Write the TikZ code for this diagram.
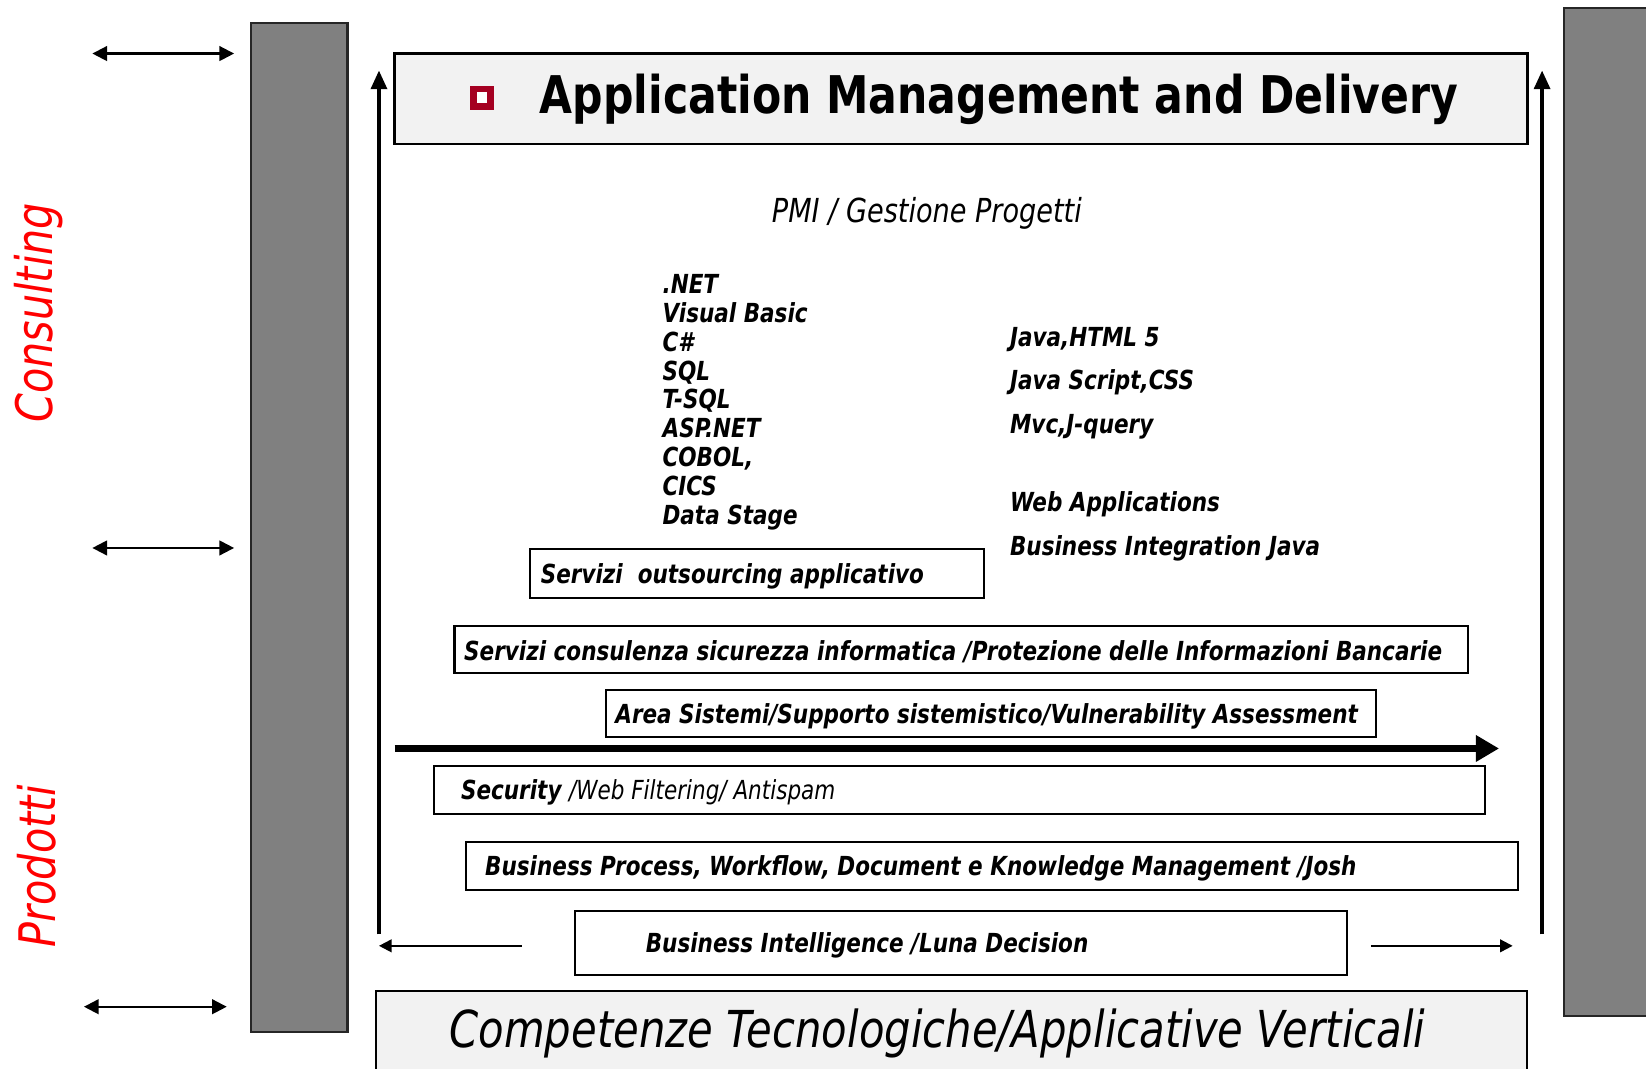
\documentclass[tikz,border=0pt]{standalone}
\usepackage{fontspec}
\setmainfont{DejaVu Sans}[FakeStretch=0.82]
\usetikzlibrary{arrows.meta}
\definecolor{barGray}{RGB}{128,128,128}
\definecolor{paneGray}{RGB}{242,242,242}
\definecolor{markRed}{RGB}{165,0,33}
\tikzset{
  bar/.style={draw=black!85,line width=2pt,fill=barGray},
  pane/.style={draw=black,line width=2.5pt,fill=paneGray,inner sep=0pt},
  box/.style={draw=black,line width=2pt,fill=white,inner sep=0pt},
  txt/.style={font=\fontsize{25}{30}\selectfont\bfseries\itshape,inner sep=0pt},
  boxtext/.style={txt,anchor=west,yshift=-2.5pt},
  item/.style={txt,anchor=base west},
  sidelabel/.style={text=red,font=\fontsize{48}{55}\selectfont\itshape,rotate=90,inner sep=0pt},
  dbl/.style={{Triangle[length=14pt,width=14pt]}-{Triangle[length=14pt,width=14pt]},line width=2pt},
  risearrow/.style={-{Triangle[length=18pt,width=15pt]},line width=4pt},
  flowarrow/.style={-{Triangle[length=22pt,width=24pt]},line width=7pt},
  sidearrow/.style={-{Triangle[length=12pt,width=12pt]},line width=2pt}
}
\begin{document}
\begin{tikzpicture}[x=1pt,y=-1pt]
  \useasboundingbox (0,0) rectangle (1568,1018);
  \draw[bar] (239,22) rectangle (331,983);
  \draw[bar] (1490,8) rectangle (1580,968);
  \node[sidelabel] (consulting) at (37,298) {Consulting};
  \node[sidelabel] (prodotti) at (35,825) {Prodotti};
  \coordinate (da1) at (88,51);  \coordinate (db1) at (223,51);
  \coordinate (da2) at (88,522); \coordinate (db2) at (223,522);
  \coordinate (da3) at (80,959); \coordinate (db3) at (216,959);
  \draw[dbl] (da1) -- (db1);
  \draw[dbl] (da2) -- (db2);
  \draw[dbl] (da3) -- (db3);

  \node[pane,minimum width=1079pt,minimum height=86pt] (title) at (915.5,94) {};
  \node[draw=markRed,line width=6.5pt,fill=white,minimum size=16.5pt,inner sep=0pt] (mark) at (459,93) {};
  \node[font=\fontsize{49.5}{60}\selectfont\bfseries,anchor=base west,inner sep=0pt] (titletext) at (514,108) {Application Management and Delivery};

  \coordinate (lfoot) at (361,890); \coordinate (lhead) at (361,67);
  \coordinate (rfoot) at (1469,890); \coordinate (rhead) at (1469,67);
  \draw[risearrow] (lfoot) -- (lhead);
  \draw[risearrow] (rfoot) -- (rhead);

  \node[font=\fontsize{31.5}{38}\selectfont\itshape,anchor=base,inner sep=0pt] (pmi) at (883,212) {PMI / Gestione Progetti};

  \foreach \t [count=\i from 0] in {.NET,Visual Basic,C\#,SQL,T-SQL,ASP.NET,{COBOL,},CICS,Data Stage}
    \node[item] (left\i) at (631,280+27.4*\i) {\t};
  \foreach \t/\y [count=\i] in {{Java,HTML 5}/330,{Java Script,CSS}/371,{Mvc,J-query}/413,Web Applications/487,Business Integration Java/529}
    \node[item] (right\i) at (962,\y) {\t};

  \node[box,minimum width=432pt,minimum height=47pt] (outs) at (721,546.5) {};
  \node[boxtext] (outstext) at ([xshift=11pt]outs.west) {Servizi\ \ outsourcing applicativo};
  \node[box,minimum width=965pt,minimum height=45pt] (cons) at (915.5,618.5) {};
  \node[boxtext] (constext) at ([xshift=10pt]cons.west) {Servizi consulenza sicurezza informatica /Protezione delle Informazioni Bancarie};
  \node[box,minimum width=734pt,minimum height=45pt] (area) at (944,679.5) {};
  \node[boxtext] (areatext) at ([xshift=10pt]area.west) {Area Sistemi/Supporto sistemistico/Vulnerability Assessment};

  \coordinate (flowstart) at (376,713); \coordinate (flowend) at (1428,713);
  \draw[flowarrow] (flowstart) -- (flowend);

  \node[box,minimum width=1002pt,minimum height=45pt] (sec) at (914,752.5) {};
  \node[boxtext] (sectext) at ([xshift=27pt]sec.west) {Security {\mdseries /Web Filtering/ Antispam}};
  \node[box,minimum width=1002pt,minimum height=46pt] (bpm) at (945,825) {};
  \node[boxtext] (bpmtext) at ([xshift=19pt]bpm.west) {Business Process, Workflow, Document e Knowledge Management /Josh};
  \node[box,minimum width=735pt,minimum height=61pt] (bi) at (915.5,898.5) {};
  \node[boxtext] (bitext) at ([xshift=68pt]bi.west) {Business Intelligence /Luna Decision};
  \draw[sidearrow] ([xshift=-50pt,yshift=-2.5pt]bi.west) -- ([xshift=-186pt,yshift=-2.5pt]bi.west);
  \draw[sidearrow] ([xshift=22pt,yshift=-2.5pt]bi.east) -- ([xshift=157pt,yshift=-2.5pt]bi.east);

  \node[pane,line width=2pt,minimum width=1097pt,minimum height=90pt] (comp) at (906.5,989) {};
  \node[font=\fontsize{48.5}{58}\selectfont\itshape,anchor=base,inner sep=0pt] (comptext) at (893,998) {Competenze Tecnologiche/Applicative Verticali};
\end{tikzpicture}
\end{document}
